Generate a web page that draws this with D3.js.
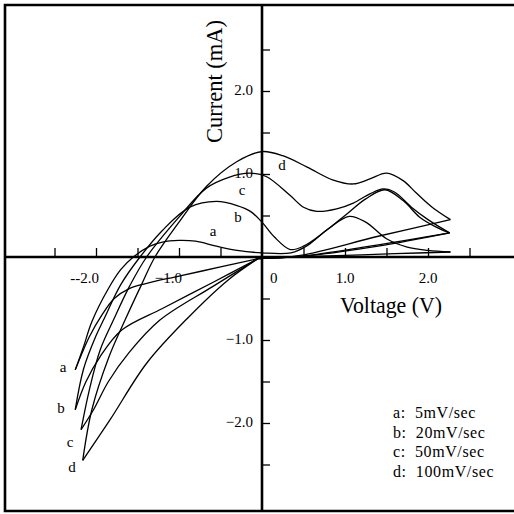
<!DOCTYPE html>
<html>
<head>
<meta charset="utf-8">
<script src="https://cdn.jsdelivr.net/npm/d3@7"></script>
<style>
	html, body { margin: 0; padding: 0; background: #fff; }
	svg { display: block; }
	text { font-family: "Liberation Serif", "DejaVu Serif", serif; fill: #000; }
</style>
</head>
<body>
<div id="chart-area"></div>
<script>
// scan curves, [voltage V, current mA]; each loop split into its three sweeps
const aNeg = [[-0.05, -0.02], [-0.5, -0.12], [-1.0, -0.23], [-1.4, -0.32], [-1.6, -0.38], [-1.78, -0.5], [-1.93, -0.7], [-2.08, -0.96], [-2.25, -1.36]];
const aPos = [[-2.25, -1.36], [-2.15, -1.08], [-2.05, -0.78], [-1.85, -0.38], [-1.7, -0.15], [-1.55, 0], [-1.35, 0.13], [-1.2, 0.18], [-1.0, 0.2], [-0.8, 0.19], [-0.55, 0.13], [-0.3, 0.08], [0, 0.05], [0.35, 0.05], [0.55, 0.14], [0.8, 0.34], [1.05, 0.49], [1.25, 0.42], [1.5, 0.22], [1.75, 0.12], [2.0, 0.08], [2.27, 0.06]];
const aBack = [[2.27, 0.06], [1.6, 0.04], [1.0, 0.02], [0.4, 0.0], [-0.05, -0.02]];

const bNeg = [[-0.05, -0.02], [-0.6, -0.31], [-1.2, -0.62], [-1.69, -0.88], [-1.95, -1.2], [-2.12, -1.5], [-2.25, -1.84]];
const bPos = [[-2.25, -1.84], [-2.15, -1.35], [-2.0, -0.95], [-1.91, -0.76], [-1.7, -0.33], [-1.47, 0], [-1.2, 0.32], [-0.87, 0.6], [-0.55, 0.67], [-0.3, 0.62], [-0.14, 0.55], [0, 0.42], [0.15, 0.24], [0.34, 0.09], [0.5, 0.13], [0.75, 0.3], [1.0, 0.5], [1.25, 0.7], [1.48, 0.81], [1.7, 0.68], [1.9, 0.48], [2.1, 0.36], [2.26, 0.29]];
const bBack = [[2.26, 0.29], [1.4, 0.13], [0.6, 0.02], [-0.05, -0.02]];

const cNeg = [[-0.05, -0.02], [-0.6, -0.36], [-1.23, -0.76], [-1.6, -1.15], [-1.85, -1.5], [-2.03, -1.84], [-2.18, -2.08]];
const cPos = [[-2.18, -2.08], [-2.08, -1.6], [-1.95, -1.12], [-1.79, -0.76], [-1.6, -0.36], [-1.39, 0], [-1.0, 0.48], [-0.67, 0.83], [-0.4, 0.96], [-0.15, 1.01], [0.05, 0.97], [0.34, 0.74], [0.5, 0.6], [0.66, 0.55], [0.9, 0.58], [1.1, 0.65], [1.3, 0.76], [1.46, 0.82], [1.6, 0.78], [1.8, 0.6], [2.0, 0.45], [2.26, 0.29]];
const cBack = [[2.26, 0.29], [1.3, 0.13], [0.48, 0.01], [-0.05, -0.02]];

const dNeg = [[-0.05, -0.02], [-0.4, -0.27], [-0.9, -0.74], [-1.39, -1.28], [-1.83, -1.96], [-2.16, -2.45]];
const dPos = [[-2.16, -2.45], [-2.05, -1.84], [-1.85, -1.22], [-1.65, -0.76], [-1.45, -0.33], [-1.29, 0], [-1.0, 0.42], [-0.67, 0.85], [-0.3, 1.15], [0, 1.27], [0.25, 1.22], [0.55, 1.08], [0.85, 0.93], [1.1, 0.88], [1.3, 0.94], [1.5, 1.01], [1.7, 0.92], [1.86, 0.77], [2.05, 0.6], [2.27, 0.45]];
const dBack = [[2.27, 0.45], [1.4, 0.25], [0.46, 0.02], [-0.05, -0.02]];

const curveKeys = ['a', 'b', 'c', 'd'];
const scanRates = ['5mV/sec', '20mV/sec', '50mV/sec', '100mV/sec'];

const xTickValues = [-2, -1, 0, 1, 2];
const xTickLabels = ['--2.0', '\u22121.0', '0', '1.0', '2.0'];
const yTickValues = [2, 1, -1, -2];
const yTickLabels = ['2.0', '1.0', '\u22121.0', '\u22122.0'];

const W = 514, H = 514;

const svg = d3.select('#chart-area').append('svg')
	.attr('width', W)
	.attr('height', H);

const x = d3.scaleLinear().domain([-3, 3]).range([13, 511]);
const y = d3.scaleLinear().domain([-3, 3]).range([506, 8]);

// frame (no right edge in the scan)
svg.append('path')
	.attr('d', 'M514,5H5V511H514')
	.attr('fill', 'none')
	.attr('stroke', '#000')
	.attr('stroke-width', 2.6);

// tick marks
const xAxisCall = d3.axisTop(x)
	.tickValues(d3.range(-2.5, 2.51, 0.5).filter(v => Math.abs(v) > 0.01))
	.tickSize(9)
	.tickFormat('');
const yAxisCall = d3.axisRight(y)
	.tickValues(d3.range(-2.5, 2.51, 0.5).filter(v => Math.abs(v) > 0.01))
	.tickSize(8)
	.tickFormat('');

const xAxis = svg.append('g')
	.attr('transform', `translate(0, ${y(0)})`)
	.call(xAxisCall);
const yAxis = svg.append('g')
	.attr('transform', `translate(${x(0)}, 0)`)
	.call(yAxisCall);
[xAxis, yAxis].forEach(g => {
	g.select('.domain').remove();
	g.selectAll('.tick line').attr('stroke', '#000').attr('stroke-width', 1.3);
});

// the axis lines themselves run across the whole frame
svg.append('line')
	.attr('x1', 5).attr('x2', W)
	.attr('y1', y(0)).attr('y2', y(0))
	.attr('stroke', '#000').attr('stroke-width', 2.6);
svg.append('line')
	.attr('x1', x(0)).attr('x2', x(0))
	.attr('y1', 5).attr('y2', 511)
	.attr('stroke', '#000').attr('stroke-width', 2.6);

// tick labels
svg.append('g').selectAll('text')
	.data(xTickValues)
	.enter().append('text')
	.attr('x', (d) => d < 0 ? x(d) + 3 : (d === 0 ? x(d) + 8 : x(d)))
	.attr('y', y(0) + 26)
	.attr('text-anchor', (d) => d < 0 ? 'end' : (d === 0 ? 'start' : 'middle'))
	.attr('font-size', '15px')
	.text((d, i) => xTickLabels[i]);

svg.append('g').selectAll('text')
	.data(yTickValues)
	.enter().append('text')
	.attr('x', x(0) - 9)
	.attr('y', (d) => y(d) + 4)
	.attr('text-anchor', 'end')
	.attr('font-size', '15px')
	.text((d, i) => yTickLabels[i]);

// axis titles
svg.append('text')
	.attr('x', 340)
	.attr('y', 313)
	.attr('font-size', '24px')
	.attr('textLength', 102)
	.attr('lengthAdjust', 'spacingAndGlyphs')
	.text('Voltage (V)');

svg.append('text')
	.attr('transform', 'translate(222, 143) rotate(-90)')
	.attr('font-size', '24px')
	.attr('textLength', 123)
	.attr('lengthAdjust', 'spacingAndGlyphs')
	.text('Current (mA)');

// curves
const line = d3.line()
	.x(d => x(d[0]))
	.y(d => y(d[1]))
	.curve(d3.curveCatmullRom.alpha(0.5));

const sweeps = [aNeg, aPos, aBack, bNeg, bPos, bBack, cNeg, cPos, cBack, dNeg, dPos, dBack];
svg.append('g').selectAll('path')
	.data(sweeps)
	.enter().append('path')
	.attr('d', line)
	.attr('fill', 'none')
	.attr('stroke', '#000')
	.attr('stroke-width', 1.3)
	.attr('stroke-linejoin', 'round');

// curve letters: at the negative tips and beside the first oxidation peaks
const tipLabels = [[63, 372], [61, 413], [70, 447], [72, 472]];
const peakLabels = [[213, 236], [238, 222], [242, 195], [282, 170]];
curveKeys.forEach((k, i) => {
	[tipLabels[i], peakLabels[i]].forEach(p => {
		svg.append('text')
			.attr('x', p[0])
			.attr('y', p[1])
			.attr('text-anchor', 'middle')
			.attr('font-size', '15px')
			.text(k);
	});
});

// legend
svg.append('g').selectAll('text')
	.data(curveKeys)
	.enter().append('text')
	.attr('x', 393)
	.attr('y', (d, i) => 418 + i * 19.7)
	.attr('font-size', '16px')
	.attr('letter-spacing', 0.6)
	.style('white-space', 'pre')
	.text((d, i) => `${d}:  ${scanRates[i]}`);
</script>
</body>
</html>
